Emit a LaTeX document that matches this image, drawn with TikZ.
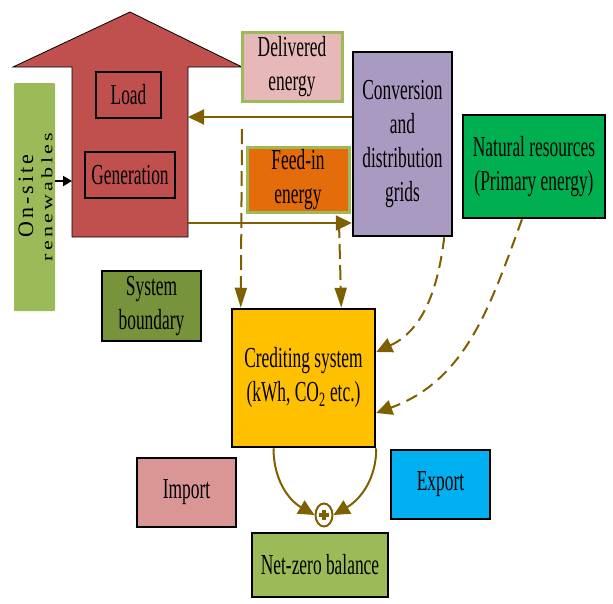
\documentclass[tikz,border=0pt]{standalone}
\usepackage{fontspec}
\setmainfont{Liberation Serif}[FakeStretch=0.6]
\newfontfamily\onsitefont{Liberation Serif}[LetterSpace=14]
\newfontfamily\renewfont{Liberation Serif}[LetterSpace=15]
\usetikzlibrary{arrows.meta,shapes.geometric}
\definecolor{arrred}{HTML}{C0504D}
\definecolor{lgreen}{HTML}{9BBB59}
\definecolor{dpink}{HTML}{E6B9B8}
\definecolor{lilac}{HTML}{A99AC2}
\definecolor{orng}{HTML}{E46C0A}
\definecolor{natgreen}{HTML}{00B050}
\definecolor{olive}{HTML}{77933C}
\definecolor{amber}{HTML}{FFC000}
\definecolor{rose}{HTML}{D99694}
\definecolor{sky}{HTML}{00B0F0}
\definecolor{brn}{HTML}{7F6000}
\tikzset{
  box/.style={draw=black,line width=2.5pt,align=center,inner sep=0pt,
    font=\fontsize{29pt}{34pt}\selectfont},
  gbox/.style={box,draw=lgreen,line width=3pt},
  flow/.style={draw=brn,line width=2pt,-{Triangle[length=16pt,width=15pt]}},
  drop/.style={flow,dash pattern=on 15pt off 6pt,-{Triangle[length=20pt,width=12pt]}},
  curvy/.style={flow,dash pattern=on 12pt off 7pt},
}
\begin{document}
\begin{tikzpicture}[x=1pt,y=1pt]
  \useasboundingbox (0,0) rectangle (613,-603);
  \draw[fill=arrred,line width=0.8pt]
    (130,-12) -- (242,-67) -- (188,-67) -- (188,-237) -- (72,-237)
    -- (72,-67) -- (13,-67) -- cycle;
  \coordinate (shafttop) at (188,-117);
  \coordinate (shaftbot) at (188,-223);
  \coordinate (shaftleft) at (72,-181);
  \node[box,fill=arrred,minimum width=65pt,minimum height=46pt] (load) at (128.5,-95) {Load};
  \node[box,fill=arrred,minimum width=90pt,minimum height=46pt] (gen) at (130,-175) {Generation};
  \node[fill=lgreen,rounded corners=1pt,minimum width=41pt,minimum height=228pt] (onsite) at (34.5,-197) {};
  \node[rotate=90,inner sep=0pt,font=\onsitefont\fontsize{22pt}{21pt}\selectfont] (onsitea) at (26,-196) {On-site};
  \node[rotate=90,inner sep=0pt,font=\renewfont\fontsize{22pt}{21pt}\selectfont] (onsiteb) at (47,-197) {\scalebox{1}[0.72]{renewables}};
  \node[gbox,fill=dpink,minimum width=100pt,minimum height=69pt] (deliv) at (292,-66.5) {Delivered\\energy};
  \node[box,fill=lilac,minimum width=99pt,minimum height=184pt] (conv) at (402.5,-144) {Conversion\\and\\distribution\\grids};
  \node[gbox,fill=orng,minimum width=102pt,minimum height=65pt] (feed) at (298,-179.5) {Feed-in\\energy};
  \node[box,fill=natgreen,minimum width=142pt,minimum height=103pt] (nat) at (534,-166.5) {Natural resources\\(Primary energy)};
  \node[box,fill=olive,minimum width=99pt,minimum height=70pt] (sysb) at (151.5,-306) {System\\boundary};
  \node[box,fill=amber,minimum width=143pt,minimum height=138pt] (cred) at (303.5,-378) {Crediting system\\(kWh, CO\textsubscript{2} etc.)};
  \node[box,fill=rose,minimum width=99pt,minimum height=69pt] (imp) at (186.5,-492.5) {Import};
  \node[box,fill=sky,minimum width=99pt,minimum height=69pt] (exp) at (440.5,-484.5) {Export};
  \node[box,fill=lgreen,minimum width=136pt,minimum height=64pt] (net) at (320,-565) {Net-zero balance};
  \node[draw=brn,line width=2pt,ellipse,inner sep=0pt,minimum width=17pt,minimum height=23pt] (plus) at (324,-515) {};
  \draw[brn,line width=3.5pt] ([xshift=-5pt]plus.center) -- ([xshift=5pt]plus.center)
    ([yshift=-5pt]plus.center) -- ([yshift=5pt]plus.center);
  \coordinate (droptop) at (242,-129);
  \coordinate (feedbot) at (339,-223);
  \draw[flow] ([yshift=27pt]conv.west) -- (shafttop);
  \draw[flow] (shaftbot) -- ([yshift=-79pt]conv.west);
  \draw[black,line width=2pt,-{Triangle[length=9pt,width=10pt]}] ([yshift=16pt]onsite.east) -- (shaftleft);
  \draw[drop] (droptop) -- ([xshift=10pt]cred.north west);
  \draw[drop] (feedbot) -- ([xshift=-35pt]cred.north east);
  \draw[curvy] ([xshift=-9pt]conv.south east) to[out=-97,in=25] ([yshift=26pt]cred.east);
  \draw[curvy] ([xshift=-12pt]nat.south) to[out=-110,in=20] ([yshift=-35pt]cred.east);
  \draw[flow] ([xshift=-30pt]cred.south) to[out=-90,in=150] (plus.west);
  \draw[flow] (cred.south east) to[out=-90,in=30] (plus.east);
\end{tikzpicture}
\end{document}
